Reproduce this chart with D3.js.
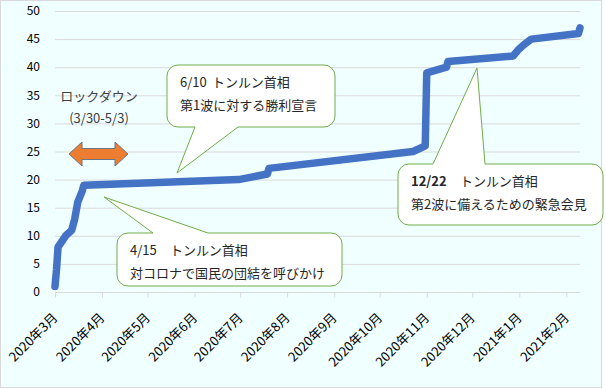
<!DOCTYPE html>
<html>
<head>
<meta charset="utf-8">
<script src="https://cdn.jsdelivr.net/npm/d3@7"></script>
<style>
body { margin: 0; background: #fff; }
text { font-family: "Noto Sans CJK JP", "Noto Sans", sans-serif; }
</style>
</head>
<body>
<svg width="606" height="389"></svg>
<script>
// cumulative count
var dates = ["2020-03-01", "2020-03-02", "2020-03-03", "2020-03-08", "2020-03-12",
             "2020-03-14", "2020-03-16", "2020-03-19", "2020-03-20", "2020-06-30",
             "2020-07-19", "2020-07-20", "2020-10-23", "2020-10-31", "2020-11-01",
             "2020-11-14", "2020-11-15", "2020-12-28", "2020-12-31", "2021-01-04",
             "2021-01-09", "2021-02-09", "2021-02-10"];
var cases = [1, 4, 8, 10, 11, 13, 16, 18, 19, 20, 21, 22, 25, 26, 39, 40, 41, 42, 43, 44, 45, 46, 47];
var yTicks = [0, 5, 10, 15, 20, 25, 30, 35, 40, 45, 50];

var parse = d3.timeParse("%Y-%m-%d");
var data = dates.map(function(d, i) {
  return { date: parse(d), value: cases[i] };
});

var svg = d3.select("svg");

// chart frame
svg.append("rect")
  .attr("x", 0.5).attr("y", 0.5)
  .attr("width", 601).attr("height", 387)
  .attr("fill", "#F0FFFF")
  .attr("stroke", "#D9D9D9");

var xScale = d3.scaleTime()
  .domain([new Date(2020, 2, 1), new Date(2021, 1, 10)])
  .range([55, 580]);
var yScale = d3.scaleLinear()
  .domain([0, 50])
  .range([292, 11]);

// grid + y labels
svg.append("g")
  .selectAll("line")
  .data(yTicks)
  .enter()
  .append("line")
  .attr("x1", 55).attr("x2", 580)
  .attr("y1", function(d) { return yScale(d) + 0.5; })
  .attr("y2", function(d) { return yScale(d) + 0.5; })
  .attr("stroke", "#D9D9D9");

svg.append("g")
  .selectAll("text")
  .data(yTicks)
  .enter()
  .append("text")
  .attr("x", 40)
  .attr("y", function(d) { return yScale(d); })
  .attr("dy", "0.35em")
  .attr("text-anchor", "end")
  .attr("font-size", 12)
  .attr("fill", "#000")
  .text(function(d) { return d; });

// x axis
var xAxis = d3.axisBottom(xScale)
  .ticks(d3.timeMonth.every(1))
  .tickSize(5)
  .tickFormat(d3.timeFormat("%Y年%-m月"));

var gx = svg.append("g")
  .attr("transform", "translate(0," + (yScale(0) + 0.5) + ")")
  .call(xAxis);
gx.select(".domain").attr("stroke", "#D9D9D9").attr("d", "M55,0H580");
gx.selectAll(".tick line").attr("stroke", "#D9D9D9");
gx.selectAll(".tick text")
  .attr("font-size", 13)
  .attr("fill", "#000")
  .attr("text-anchor", "end")
  .attr("x", 0).attr("y", 0).attr("dy", 0)
  .attr("transform", "translate(3,26) rotate(-45)");

// line
var line = d3.line()
  .x(function(d) { return xScale(d.date); })
  .y(function(d) { return yScale(d.value); });

svg.append("path")
  .datum(data)
  .attr("d", line)
  .attr("fill", "none")
  .attr("stroke", "#4472C4")
  .attr("stroke-width", 7.5)
  .attr("stroke-linejoin", "round")
  .attr("stroke-linecap", "round");

// lockdown label + arrow
svg.append("text")
  .attr("x", 99).attr("y", 101)
  .attr("text-anchor", "middle")
  .attr("font-size", 13)
  .attr("fill", "#404040")
  .text("ロックダウン");
svg.append("text")
  .attr("x", 99).attr("y", 123)
  .attr("text-anchor", "middle")
  .attr("font-size", 13)
  .attr("fill", "#404040")
  .text("(3/30-5/3)");

svg.append("polygon")
  .attr("points", "69,154 82,142 82,148.5 115,148.5 115,142 128,154 115,166 115,159.5 82,159.5 82,166")
  .attr("fill", "#ED7D31")
  .attr("stroke", "#6A7585")
  .attr("stroke-width", 1);

// callouts
var calloutPath = function(c) {
  var x = c.x, y = c.y, w = c.w, h = c.h, r = 11;
  var p = d3.path();
  p.moveTo(x + r, y);
  if (c.side == "top") {
    p.lineTo(c.b1, y); p.lineTo(c.tx, c.ty); p.lineTo(c.b2, y);
  }
  p.lineTo(x + w - r, y);
  p.arcTo(x + w, y, x + w, y + r, r);
  p.lineTo(x + w, y + h - r);
  p.arcTo(x + w, y + h, x + w - r, y + h, r);
  if (c.side == "bottom") {
    p.lineTo(c.b2, y + h); p.lineTo(c.tx, c.ty); p.lineTo(c.b1, y + h);
  }
  p.lineTo(x + r, y + h);
  p.arcTo(x, y + h, x, y + h - r, r);
  p.lineTo(x, y + r);
  p.arcTo(x, y, x + r, y, r);
  p.closePath();
  return p.toString();
}

var callouts = [
  { x: 167, y: 65, w: 168, h: 62, side: "bottom", b1: 195, b2: 238, tx: 177, ty: 173,
    date: "6/10", name: "トンルン首相", nameX: 212, line2: "第1波に対する勝利宣言", bold: false },
  { x: 117, y: 233, w: 225, h: 53, side: "top", b1: 153, b2: 208, tx: 104, ty: 197,
    date: "4/15", name: "トンルン首相", nameX: 170, line2: "対コロナで国民の団結を呼びかけ", bold: false },
  { x: 398, y: 164, w: 205, h: 61, side: "top", b1: 433, b2: 485, tx: 477, ty: 68,
    date: "12/22", name: "トンルン首相", nameX: 460, line2: "第2波に備えるための緊急会見", bold: true }
];

var cg = svg.append("g")
  .selectAll("g")
  .data(callouts)
  .enter()
  .append("g");

cg.append("path")
  .attr("d", calloutPath)
  .attr("fill", "#fff")
  .attr("stroke", "#70AD47")
  .attr("stroke-width", 1);

var t1 = cg.append("text")
  .attr("y", function(d) { return d.y + 22; })
  .attr("font-size", 13)
  .attr("fill", "#262626");
t1.append("tspan")
  .attr("x", function(d) { return d.x + 13; })
  .attr("font-weight", function(d) { return d.bold ? "bold" : "normal"; })
  .text(function(d) { return d.date; });
t1.append("tspan")
  .attr("x", function(d) { return d.nameX; })
  .text(function(d) { return d.name; });

cg.append("text")
  .attr("x", function(d) { return d.x + 13; })
  .attr("y", function(d) { return d.y + 45; })
  .attr("font-size", 13)
  .attr("fill", "#262626")
  .text(function(d) { return d.line2; });
</script>
</body>
</html>
